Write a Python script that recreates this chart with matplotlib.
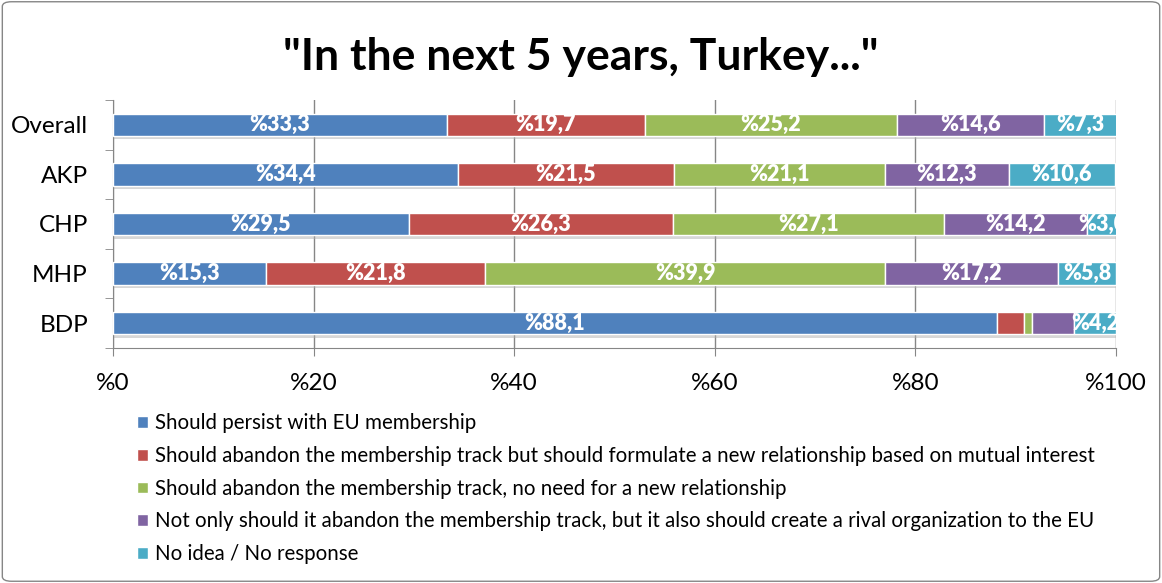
import matplotlib.pyplot as plt
import numpy as np
from matplotlib.patches import FancyBboxPatch

plt.rcParams['font.family'] = ['Lato', 'DejaVu Sans']

# data
groups = ["Overall", "AKP", "CHP", "MHP", "BDP"]
answers = [
    "Should persist with EU membership",
    "Should abandon the membership track but should formulate a new relationship based on mutual interest",
    "Should abandon the membership track, no need for a new relationship",
    "Not only should it abandon the membership track, but it also should create a rival organization to the EU",
    "No idea / No response",
]
persist = [33.3, 34.4, 29.5, 15.3, 88.1]
new_rel = [19.7, 21.5, 26.3, 21.8, 2.7]
no_rel = [25.2, 21.1, 27.1, 39.9, 0.8]
rival = [14.6, 12.3, 14.2, 17.2, 4.2]
no_idea = [7.3, 10.6, 3.0, 5.8, 4.2]
colors = ["#4F81BD", "#C0504D", "#9BBB59", "#8064A2", "#4BACC6"]
show_label = [[True] * 5, [True] * 5, [True] * 5, [True] * 5,
              [True, False, False, False, True]]

series = [persist, new_rel, no_rel, rival, no_idea]

fig = plt.figure(figsize=(11.62, 5.83), dpi=100)
ax = fig.add_axes([113 / 1162, 1 - 348 / 583, 1003 / 1162, 248 / 583])

y = np.arange(len(groups))
h = 0.45
left = np.zeros(len(groups))
for vals, col, name in zip(series, colors, answers):
    vals = np.array(vals)
    # soft shadow under bars
    ax.barh(y + 0.07, vals, left=left, height=h, color="#b0b0b0", alpha=0.5, zorder=2)
    ax.barh(y, vals, left=left, height=h, color=col, edgecolor="white",
            linewidth=1, label=name, zorder=3)
    left += vals

left = np.zeros(len(groups))
for si, vals in enumerate(series):
    for gi, v in enumerate(vals):
        if show_label[gi][si]:
            txt = "%" + f"{v:.1f}".replace(".", ",")
            ax.text(left[gi] + v / 2, gi, txt, ha="center", va="center",
                    color="white", fontsize=15.5, fontweight="heavy", zorder=4,
                    clip_on=True)
    left += np.array(vals)

ax.set_xlim(0, 100)
ax.set_ylim(len(groups) - 0.5, -0.5)
ax.set_xticks(range(0, 101, 20))
ax.set_xticklabels(["%" + str(t) for t in range(0, 101, 20)], fontsize=17.5)
ax.set_yticks(y)
ax.set_yticklabels(groups, fontsize=17.5)
ax.set_yticks(np.arange(-0.5, len(groups)), minor=True)
ax.tick_params(axis="y", which="major", length=0, pad=18)
ax.tick_params(axis="y", which="minor", length=6, color="#868686")
ax.tick_params(axis="x", length=6, color="#868686", pad=12)
ax.grid(axis="x", color="#868686", linewidth=1, zorder=0)
ax.set_axisbelow(True)
for s in ["top", "right"]:
    ax.spines[s].set_visible(False)
for s in ["left", "bottom"]:
    ax.spines[s].set_color("#868686")

fig.text(0.5, 1 - 57 / 583, '"In the next 5 years, Turkey..."', ha="center",
         va="center", fontsize=32, fontweight="bold")

handles, labels = ax.get_legend_handles_labels()
fig.legend(handles, labels, loc="upper left", bbox_to_anchor=(129 / 1162, 1 - 405 / 583),
           frameon=False, fontsize=14.8, handlelength=0.5, handleheight=0.5,
           handletextpad=0.35, labelspacing=0.62, borderaxespad=0)

fig.patches.append(FancyBboxPatch((0.002, 0.003), 0.996, 0.994,
                                  boxstyle="round,pad=0,rounding_size=0.008",
                                  transform=fig.transFigure, fill=False,
                                  edgecolor="#868686", linewidth=1))

fig.savefig("out.png", dpi=100)
